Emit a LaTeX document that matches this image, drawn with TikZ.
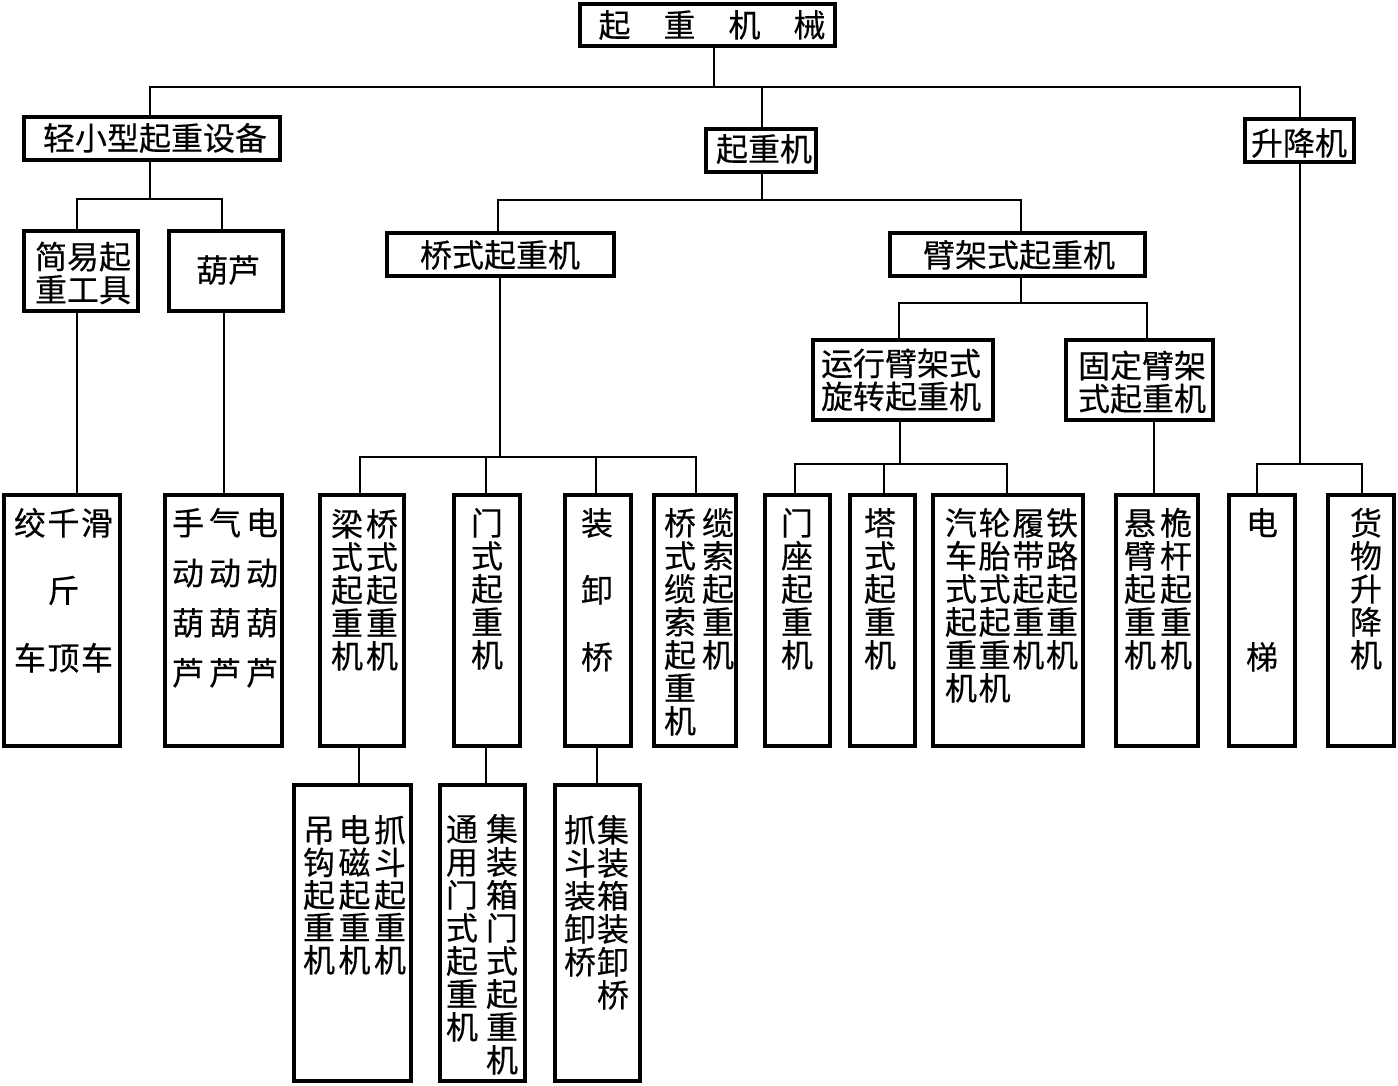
\documentclass[tikz,border=0pt]{standalone}
\usepackage{fontspec}
\newfontfamily\cjk[FakeBold=0.3]{Noto Sans CJK SC}
\newcommand{\vtab}[3]{\setbox\strutbox\hbox{\vrule height 28pt depth 5pt width 0pt}\renewcommand\arraystretch{#2}\begin{tabular}[t]{@{}#1@{}}#3\end{tabular}}
\newcommand{\bx}[5]{\node[box, minimum width={#4-#2-4}, minimum height={#5-#3-4}] (#1) at ({(#2+#4)/2},{(#3+#5)/2}) {};}
\begin{document}
\begin{tikzpicture}[x=1pt,y=-1pt,
  box/.style={draw, line width=4pt, inner sep=0pt, outer sep=0pt, fill=white},
  conn/.style={line width=2pt},
  txt/.style={font=\cjk\fontsize{32}{33}\selectfont, inner sep=0pt},
  vtxt/.style={txt, anchor=base}]
\fill[white] (0,0) rectangle (1398,1085);
\useasboundingbox (0,0) rectangle (1398,1085);

% ---------- boxes ----------
\bx{top}{578}{2}{837}{48}
\bx{qxx}{22}{115}{282}{162}
\bx{qzj}{704}{127}{818}{174}
\bx{sjj}{1243}{117}{1356}{164}
\bx{jy}{22}{229}{140}{313}
\bx{hl}{167}{229}{285}{313}
\bx{qs}{385}{231}{616}{278}
\bx{bj}{888}{231}{1147}{278}
\bx{yx}{811}{338}{995}{422}
\bx{gd}{1064}{338}{1215}{422}
\bx{jq}{2}{493}{122}{748}
\bx{sq}{163}{493}{284}{748}
\bx{lq}{318}{493}{406}{748}
\bx{ms}{452}{493}{522}{748}
\bx{zx}{563}{493}{633}{748}
\bx{ls}{652}{493}{738}{748}
\bx{mz}{763}{493}{832}{748}
\bx{ts}{848}{493}{917}{748}
\bx{qc}{931}{493}{1085}{748}
\bx{xb}{1114}{493}{1200}{748}
\bx{dt}{1227}{493}{1297}{748}
\bx{hw}{1326}{493}{1396}{748}
\bx{dg}{292}{783}{413}{1083}
\bx{ty}{438}{783}{527}{1083}
\bx{zd}{553}{783}{642}{1083}

% ---------- texts ----------
\node[txt] (t-top) at (712,25) {起\hspace{33pt}重\hspace{33pt}机\hspace{33pt}械};
\node[txt] (t-qxx) at (155,138) {轻小型起重设备};
\node[txt] (t-qzj) at (764,149) {起重机};
\node[txt] (t-sjj) at (1299,143) {升降机};
\node[txt, align=center] (t-jy) at (83,273) {简易起\\重工具};
\node[txt] (t-hl) at (228,270) {葫芦};
\node[txt] (t-qs) at (500,255) {桥式起重机};
\node[txt] (t-bj) at (1019,255) {臂架式起重机};
\node[txt, align=center] (t-yx) at (901,380) {运行臂架式\\旋转起重机};
\node[txt, align=center] (t-gd) at (1142,382) {固定臂架\\式起重机};

\node[vtxt] (t-jq) at (63.5,535) {\vtab{c@{\hspace{1.5pt}}c@{\hspace{1.5pt}}c}{2.045}{绞&千&滑\\&斤&\\车&顶&车}};
\node[vtxt] (t-sq) at (225,535) {\vtab{c@{\hspace{5pt}}c@{\hspace{5pt}}c}{1.515}{手&气&电\\动&动&动\\葫&葫&葫\\芦&芦&芦}};
\node[vtxt] (t-lq) at (364.5,536) {\vtab{c@{\hspace{3pt}}c}{1}{梁&桥\\式&式\\起&起\\重&重\\机&机}};
\node[vtxt] (t-ms) at (487,535) {\vtab{c}{1}{门\\式\\起\\重\\机}};
\node[vtxt] (t-zx) at (597,535) {\vtab{c}{2.03}{装\\卸\\桥}};
\node[vtxt] (t-ls) at (699,535) {\vtab{c@{\hspace{6pt}}c}{1}{桥&缆\\式&索\\缆&起\\索&重\\起&机\\重&\\机&}};
\node[vtxt] (t-mz) at (797,535) {\vtab{c}{1}{门\\座\\起\\重\\机}};
\node[vtxt] (t-ts) at (880,535) {\vtab{c}{1}{塔\\式\\起\\重\\机}};
\node[vtxt] (t-qc) at (1011.5,535) {\vtab{c@{\hspace{1.7pt}}c@{\hspace{1.7pt}}c@{\hspace{1.7pt}}c}{1}{汽&轮&履&铁\\车&胎&带&路\\式&式&起&起\\起&起&重&重\\重&重&机&机\\机&机&&}};
\node[vtxt] (t-xb) at (1158,535) {\vtab{c@{\hspace{4pt}}c}{1}{悬&桅\\臂&杆\\起&起\\重&重\\机&机}};
\node[vtxt] (t-dt) at (1262,535) {\vtab{c}{4.06}{电\\梯}};
\node[vtxt] (t-hw) at (1366,535) {\vtab{c}{1}{货\\物\\升\\降\\机}};
\node[vtxt] (t-dg) at (354.5,842) {\vtab{c@{\hspace{3.5pt}}c@{\hspace{3.5pt}}c}{0.985}{吊&电&抓\\钩&磁&斗\\起&起&起\\重&重&重\\机&机&机}};
\node[vtxt] (t-ty) at (482,841) {\vtab{c@{\hspace{8pt}}c}{1}{通&集\\用&装\\门&箱\\式&门\\起&式\\重&起\\机&重\\&机}};
\node[vtxt] (t-zd) at (596.5,842) {\vtab{c@{\hspace{1pt}}c}{1}{抓&集\\斗&装\\装&箱\\卸&装\\桥&卸\\&桥}};

% ---------- connectors ----------
\coordinate (j0) at (714,87);
\draw[conn] (top.south -| j0) -- (j0);
\draw[conn] (qxx.north -| 150,0) |- (j0) -| (sjj.north -| 1300,0);
\draw[conn] (qzj.north -| 762,0) -- (j0 -| 762,0);

\coordinate (j1) at (150,199);
\draw[conn] (qxx.south -| j1) -- (j1);
\draw[conn] (jy.north -| 77,0) |- (j1) -| (hl.north -| 222,0);
\draw[conn] (jy.south -| 77,0) -- (jq.north -| 77,0);
\draw[conn] (hl.south -| 224,0) -- (sq.north -| 224,0);

\coordinate (j2) at (762,200);
\draw[conn] (qzj.south -| j2) -- (j2);
\draw[conn] (qs.north -| 498,0) |- (j2) -| (bj.north -| 1021,0);

\coordinate (j3) at (500,457);
\draw[conn] (qs.south -| j3) -- (j3);
\draw[conn] (lq.north -| 360,0) |- (j3) -| (ls.north -| 696,0);
\draw[conn] (ms.north -| 486,0) -- (j3 -| 486,0);
\draw[conn] (zx.north -| 596,0) -- (j3 -| 596,0);
\draw[conn] (lq.south -| 359,0) -- (dg.north -| 359,0);
\draw[conn] (ms.south -| 486,0) -- (ty.north -| 486,0);
\draw[conn] (zx.south -| 597,0) -- (zd.north -| 597,0);

\coordinate (j4) at (1021,303);
\draw[conn] (bj.south -| j4) -- (j4);
\draw[conn] (yx.north -| 899,0) |- (j4) -| (gd.north -| 1147,0);

\coordinate (j5) at (900,464);
\draw[conn] (yx.south -| j5) -- (j5);
\draw[conn] (mz.north -| 795,0) |- (j5) -| (qc.north -| 1007,0);
\draw[conn] (ts.north -| 884,0) -- (j5 -| 884,0);
\draw[conn] (gd.south -| 1154,0) -- (xb.north -| 1154,0);

\coordinate (j6) at (1300,464);
\draw[conn] (sjj.south -| j6) -- (j6);
\draw[conn] (dt.north -| 1257,0) |- (j6) -| (hw.north -| 1362,0);
\end{tikzpicture}
\end{document}
